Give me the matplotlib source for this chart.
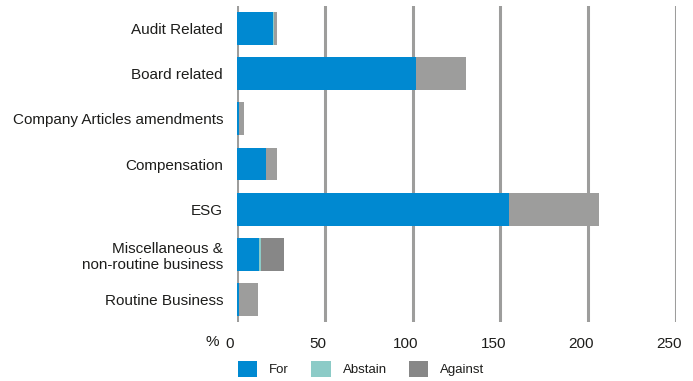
import matplotlib
matplotlib.use("Agg")
import matplotlib.pyplot as plt
import matplotlib.transforms as mtransforms
import numpy as np

plt.rcParams['font.family'] = ['Liberation Sans', 'DejaVu Sans']

categories = ["Audit Related", "Board related", "Company Articles amendments",
              "Compensation", "ESG", "Miscellaneous &\nnon-routine business",
              "Routine Business"]
vote_for = [20.3, 102.0, 1.1, 16.3, 155.0, 12.3, 1.3]
vote_abstain = [1.0, 0.0, 0.0, 0.0, 0.0, 1.2, 0.0]
vote_against = [0.0, 0.0, 0.0, 0.0, 0.0, 13.0, 0.0]
vote_other = [1.2, 28.6, 2.7, 6.3, 51.0, 0.0, 10.5]
xticks = [0, 50, 100, 150, 200, 250]

c_for = "#0089d1"
c_abs = "#8ccbc7"
c_against = "#878787"
c_other = "#9d9d9c"
c_text = "#1d1d1b"

fig = plt.figure(figsize=(6.93, 3.81), dpi=100)
ax = fig.add_axes([237/693, 1-322/381, (676-237)/693, (322-6)/381])

y = np.arange(len(categories))
h = 0.73
f = np.array(vote_for); a = np.array(vote_abstain); g = np.array(vote_against); o = np.array(vote_other)
ax.barh(y, f, height=h, color=c_for, label="For", zorder=3)
ax.barh(y, a, left=f, height=h, color=c_abs, label="Abstain", zorder=3)
ax.barh(y, g, left=f+a, height=h, color=c_against, label="Against", zorder=3)
ax.barh(y, o, left=f+a+g, height=h, color=c_other, zorder=3)

ax.set_ylim(len(categories)-0.5, -0.5)
ax.set_xlim(0, 250)
ax.set_yticks(y)
ax.set_yticklabels(categories, fontsize=11, color=c_text, multialignment='right')
ax.set_xticks(xticks)
ax.set_xticklabels([str(t) for t in xticks], fontsize=11, color=c_text)
ax.tick_params(axis='both', length=0)
ax.tick_params(axis='x', pad=11)
ax.tick_params(axis='y', pad=10)
offset = mtransforms.ScaledTranslation(-7/100, 0, fig.dpi_scale_trans)
for lab in ax.get_xticklabels():
    lab.set_transform(lab.get_transform() + offset)

for s in ax.spines.values():
    s.set_visible(False)
ax.grid(axis='x', color=c_other, linewidth=2.2, zorder=0)
ax.grid(axis='y', visible=False)

fig.text(212/693, 1-342/381, "%", fontsize=11, color=c_text, ha='center', va='center')

handles, labels = ax.get_legend_handles_labels()
leg = fig.legend(handles, labels, loc='center left', bbox_to_anchor=(233/693, 1-369/381),
                 ncol=3, frameon=False, fontsize=9.5, handlelength=1.45, handleheight=1.45,
                 columnspacing=1.7, handletextpad=0.9, borderaxespad=0)
for t in leg.get_texts():
    t.set_color(c_text)

fig.savefig("out.png", dpi=100)
